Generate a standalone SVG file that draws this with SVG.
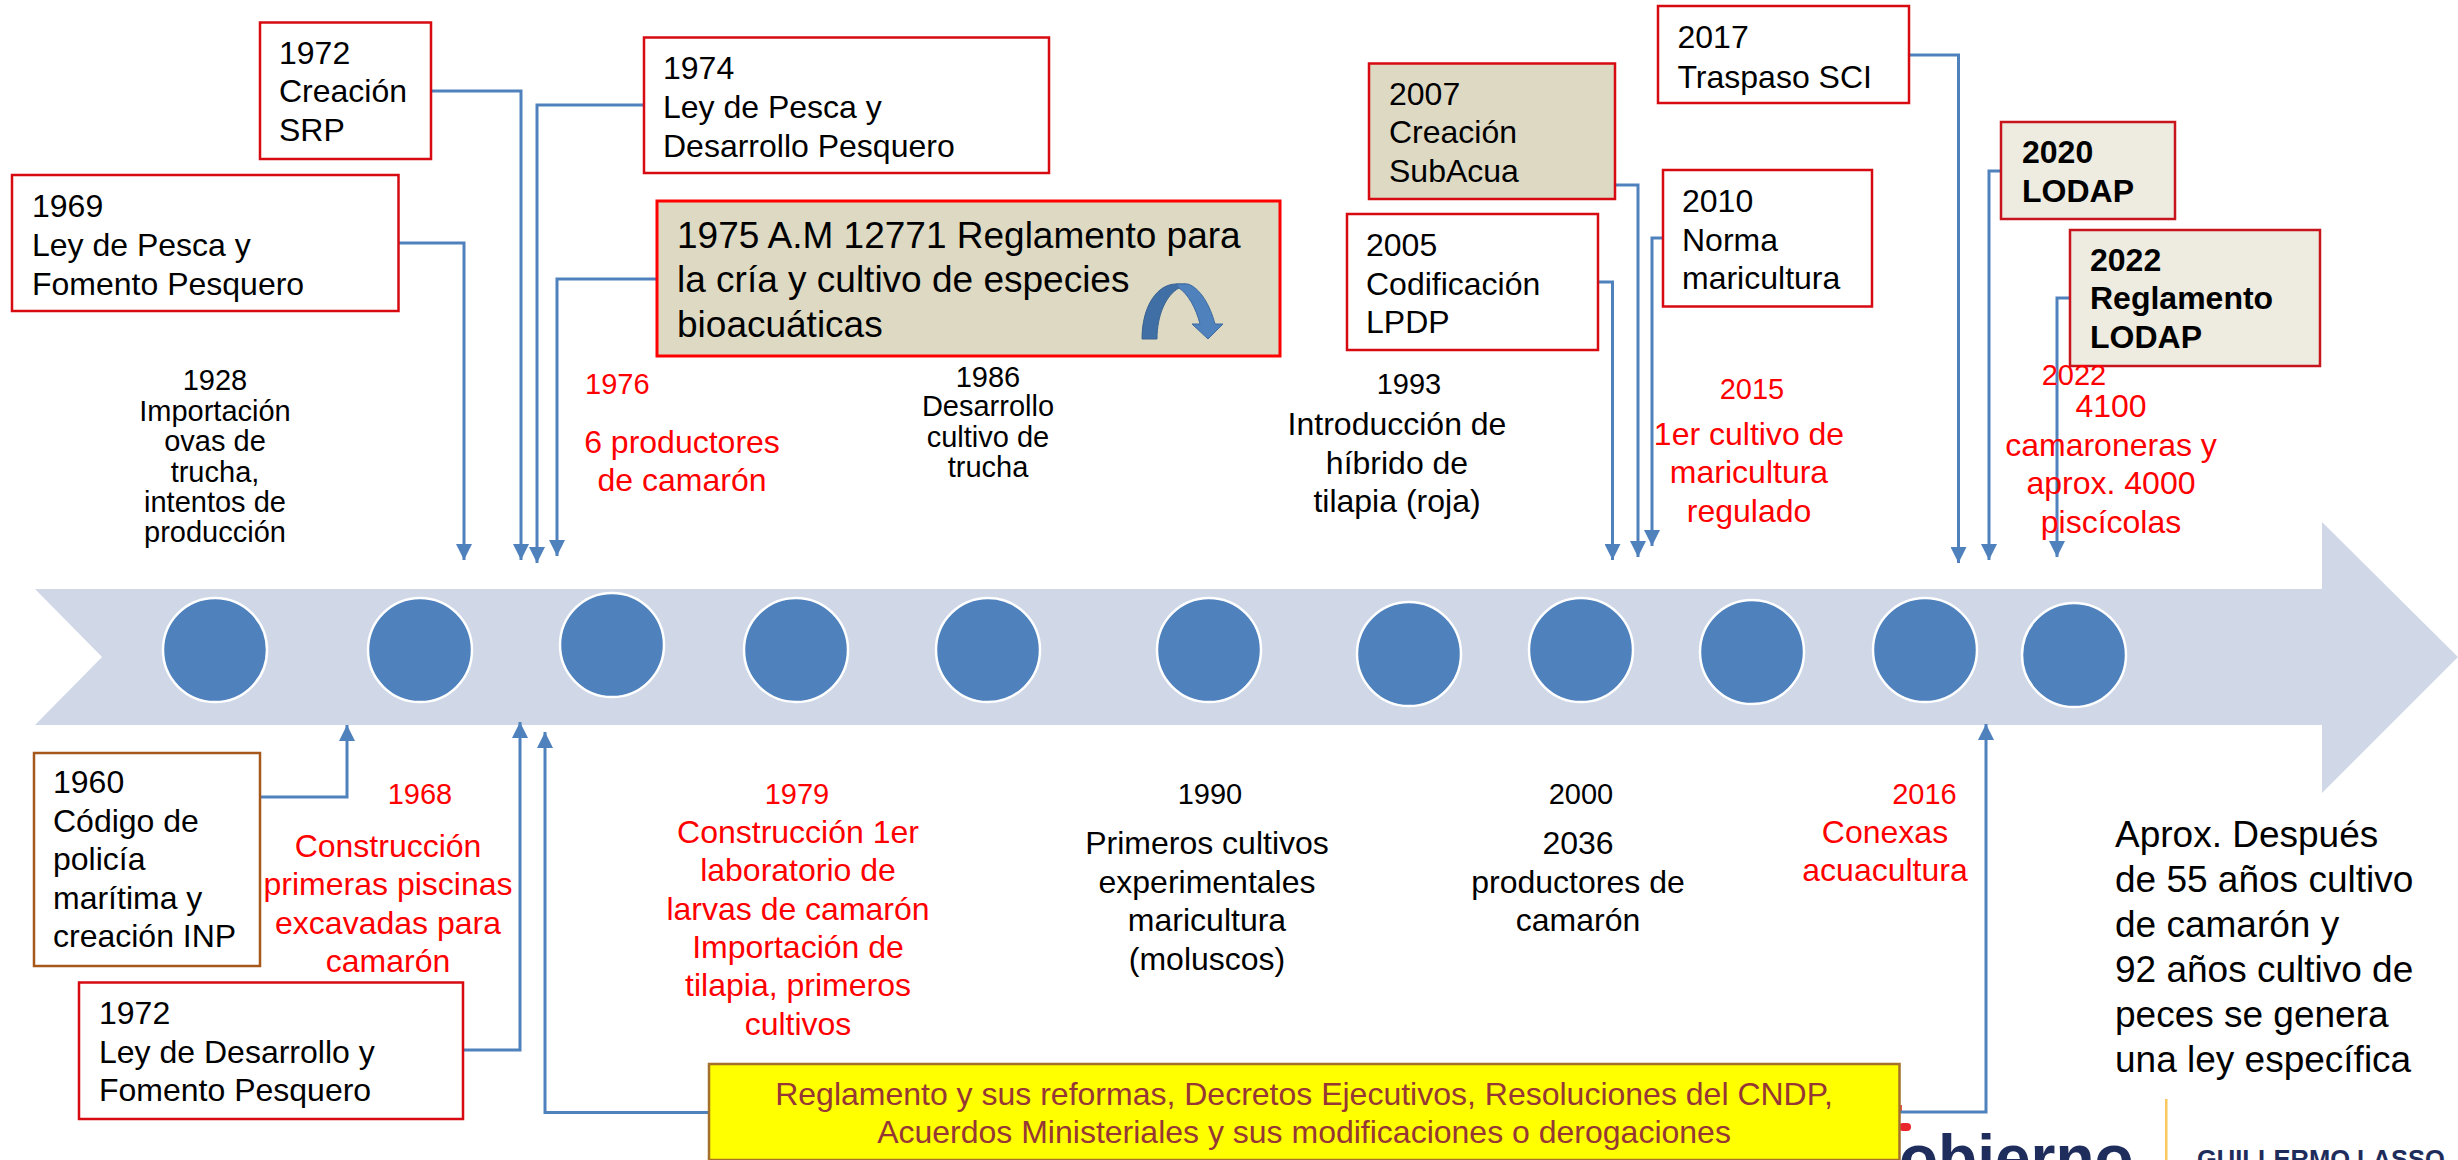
<svg xmlns="http://www.w3.org/2000/svg" width="2458" height="1160" viewBox="0 0 2458 1160">
<style>
text{font-family:"Liberation Sans",Arial,sans-serif;font-size:32px;fill:#000}
.m{text-anchor:middle}
.s{font-size:29px}
.r{fill:#f00}
.b{font-weight:bold}
.box{fill:#fff;stroke:#d60a10;stroke-width:2.5}
.khaki{fill:#ddd9c3;stroke:#d60a10;stroke-width:2.5}
.pale{fill:#eeece1;stroke:#c8141c;stroke-width:2.5}
.c{fill:#4f81bd;stroke:#fff;stroke-width:2.5}
.cn{fill:none;stroke:#4f81bd;stroke-width:3}
.y{fill:#953735;font-size:32px}
.n{font-size:37px}
</style>
<defs>
<marker id="a" markerUnits="userSpaceOnUse" markerWidth="16" markerHeight="16" refX="16" refY="8" orient="auto"><path d="M0 0L16 8L0 16z" fill="#4f81bd"/></marker>
</defs>
<g id="timeline-arrow"><path d="M35 589H2322V522L2458 657L2322 793V725H35L102 657z" fill="#d0d8e8"/></g>
<g id="logo">
<text x="1899" y="1180" font-weight="bold" style="font-size:64px;fill:#1f2d5c">obierno</text>
<rect x="1899" y="1105" width="3" height="7" fill="#e0504c"/><rect x="1899" y="1123" width="12" height="8" rx="4" fill="#e8262c"/>
<rect x="2165" y="1099" width="2.500" height="61" fill="#f8c85c"/>
<text x="2197" y="1168" class="b" style="font-size:25.5px;fill:#1f2d5c">GUILLERMO LASSO</text>
</g>
<g id="dots">
<circle class="c" cx="215" cy="650" r="52"/><circle class="c" cx="420" cy="650" r="52"/><circle class="c" cx="612" cy="645" r="52"/><circle class="c" cx="796" cy="650" r="52"/><circle class="c" cx="988" cy="650" r="52"/><circle class="c" cx="1209" cy="650" r="52"/><circle class="c" cx="1409" cy="654" r="52"/><circle class="c" cx="1581" cy="650" r="52"/><circle class="c" cx="1752" cy="652" r="52"/><circle class="c" cx="1925" cy="650" r="52"/><circle class="c" cx="2074" cy="655" r="52"/>
</g>
<g id="connectors">
<path class="cn" marker-end="url(#a)" d="M398 243H464V560"/>
<path class="cn" marker-end="url(#a)" d="M431 91H521V560"/>
<path class="cn" marker-end="url(#a)" d="M644 105H537V563"/>
<path class="cn" marker-end="url(#a)" d="M657 279H557V556"/>
<path class="cn" marker-end="url(#a)" d="M1598 282H1612.500V560"/>
<path class="cn" marker-end="url(#a)" d="M1615 185H1638V557"/>
<path class="cn" marker-end="url(#a)" d="M1663 238H1652V546"/>
<path class="cn" marker-end="url(#a)" d="M1909 55H1958.500V563"/>
<path class="cn" marker-end="url(#a)" d="M2001 171H1989V560"/>
<path class="cn" marker-end="url(#a)" d="M2070 298H2057V557"/>
<path class="cn" marker-end="url(#a)" d="M260 797H347V725"/>
<path class="cn" marker-end="url(#a)" d="M463 1050H520V722"/>
<path class="cn" marker-end="url(#a)" d="M709 1112.500H545V732"/>
<path class="cn" marker-end="url(#a)" d="M1899 1112H1986V724"/>
</g>
<g id="n1969"><rect class="box" x="12" y="175" width="386.500" height="136"/><text x="32" y="216.500">1969</text><text x="32" y="255.500">Ley de Pesca y</text><text x="32" y="294.500">Fomento Pesquero</text></g>
<g id="n1972a"><rect class="box" x="260" y="22.500" width="171" height="136.500"/><text x="279" y="63.500">1972</text><text x="279" y="102">Creación</text><text x="279" y="141">SRP</text></g>
<g id="n1974"><rect class="box" x="644" y="37.500" width="405" height="135.500"/><text x="663" y="78.500">1974</text><text x="663" y="117.500">Ley de Pesca y</text><text x="663" y="157">Desarrollo Pesquero</text></g>
<g id="n1975"><rect class="khaki" style="stroke:#f00;stroke-width:3" x="657" y="201" width="623" height="155"/><text x="677" y="248" style="font-size:37px">1975 A.M 12771 Reglamento para</text><text x="677" y="292" style="font-size:37px">la cría y cultivo de especies</text><text x="677" y="337" style="font-size:37px">bioacuáticas</text>
<path d="M1142 339C1142 305 1158 284 1176 284H1186L1179 288C1166 295 1157 315 1157 339z" fill="#406fa6" stroke="#3a6491"/><path d="M1176 284H1188C1200 288 1210 305 1215 324H1223L1208 339L1192 324H1200C1196 308 1188 294 1179 288z" fill="#4f81bd" stroke="#3d6a9f"/></g>
<g id="n2005"><rect class="box" x="1347" y="214" width="251" height="136"/><text x="1366" y="255.500">2005</text><text x="1366" y="294.500">Codificación</text><text x="1366" y="332.500">LPDP</text></g>
<g id="n2007"><rect class="khaki" x="1369" y="63.500" width="246" height="135.500"/><text x="1389" y="104.500">2007</text><text x="1389" y="143">Creación</text><text x="1389" y="181.500">SubAcua</text></g>
<g id="n2010"><rect class="box" x="1663" y="170" width="209" height="136.500"/><text x="1682" y="211.500">2010</text><text x="1682" y="251">Norma</text><text x="1682" y="288.500">maricultura</text></g>
<g id="n2017"><rect class="box" x="1658" y="6" width="251" height="97"/><text x="1677.500" y="47.500">2017</text><text x="1677.500" y="87.500">Traspaso SCI</text></g>
<g id="n2020"><rect class="pale" x="2001" y="122" width="174" height="97"/><text class="b" x="2022" y="163">2020</text><text class="b" x="2022" y="202">LODAP</text></g>
<g id="n2022"><rect class="pale" x="2070" y="230" width="250" height="136"/><text class="b" x="2090" y="271">2022</text><text class="b" x="2090" y="309">Reglamento</text><text class="b" x="2090" y="348">LODAP</text></g>
<g id="n1960"><rect x="34" y="753" width="226" height="213" fill="#fff" stroke="#a5581a" stroke-width="2.5"/><text x="53" y="792.500">1960</text><text x="53" y="831.500">Código de</text><text x="53" y="870">policía</text><text x="53" y="908.500">marítima y</text><text x="53" y="947">creación INP</text></g>
<g id="n1972b"><rect class="box" x="79" y="982.500" width="384" height="136.500"/><text x="99" y="1023.500">1972</text><text x="99" y="1062.500">Ley de Desarrollo y</text><text x="99" y="1100.500">Fomento Pesquero</text></g>
<g id="n-yellow"><rect x="709" y="1064" width="1190.500" height="96" fill="#ff0" stroke="#a5702a" stroke-width="2.5"/><text class="m y" x="1304" y="1104.500">Reglamento y sus reformas, Decretos Ejecutivos, Resoluciones del CNDP,</text><text class="m y" x="1304" y="1142.500">Acuerdos Ministeriales y sus modificaciones o derogaciones</text></g>
<g id="t1928"><text class="m s" x="215" y="390">1928</text><text class="m s" x="215" y="421">Importación</text><text class="m s" x="215" y="451">ovas de</text><text class="m s" x="215" y="482">trucha,</text><text class="m s" x="215" y="512">intentos de</text><text class="m s" x="215" y="542">producción</text></g>
<g id="t1976"><text class="s r" x="585" y="394">1976</text><text class="r m" x="682" y="453">6 productores</text><text class="r m" x="682" y="491">de camarón</text></g>
<g id="t1986"><text class="m s" x="988" y="387">1986</text><text class="m s" x="988" y="416">Desarrollo</text><text class="m s" x="988" y="447">cultivo de</text><text class="m s" x="988" y="477">trucha</text></g>
<g id="t1993"><text class="m s" x="1409" y="394">1993</text><text class="m" x="1397" y="435">Introducción de</text><text class="m" x="1397" y="473.500">híbrido de</text><text class="m" x="1397" y="512">tilapia (roja)</text></g>
<g id="t2015"><text class="m s r" x="1752" y="398.500">2015</text><text class="m r" x="1749" y="444.500">1er cultivo de</text><text class="m r" x="1749" y="483">maricultura</text><text class="m r" x="1749" y="521.500">regulado</text></g>
<g id="t2022"><text class="m s r" x="2074" y="385">2022</text><text class="m r" x="2111" y="417">4100</text><text class="m r" x="2111" y="456">camaroneras y</text><text class="m r" x="2111" y="494">aprox. 4000</text><text class="m r" x="2111" y="533">piscícolas</text></g>
<g id="t1968"><text class="m s r" x="420" y="804">1968</text><text class="m r" x="388" y="857">Construcción</text><text class="m r" x="388" y="895">primeras piscinas</text><text class="m r" x="388" y="933.500">excavadas para</text><text class="m r" x="388" y="971.500">camarón</text></g>
<g id="t1979"><text class="m s r" x="797" y="804">1979</text><text class="m r" x="798" y="842.500">Construcción 1er</text><text class="m r" x="798" y="881">laboratorio de</text><text class="m r" x="798" y="919.500">larvas de camarón</text><text class="m r" x="798" y="958">Importación de</text><text class="m r" x="798" y="996">tilapia, primeros</text><text class="m r" x="798" y="1034.500">cultivos</text></g>
<g id="t1990"><text class="m s" x="1210" y="804">1990</text><text class="m" x="1207" y="854">Primeros cultivos</text><text class="m" x="1207" y="892.500">experimentales</text><text class="m" x="1207" y="931">maricultura</text><text class="m" x="1207" y="969.500">(moluscos)</text></g>
<g id="t2000"><text class="m s" x="1581" y="804">2000</text><text class="m" x="1578" y="854">2036</text><text class="m" x="1578" y="892.500">productores de</text><text class="m" x="1578" y="931">camarón</text></g>
<g id="t2016"><text class="m s r" x="1924.500" y="804">2016</text><text class="m r" x="1885" y="842.500">Conexas</text><text class="m r" x="1885" y="881">acuacultura</text></g>
<g id="note"><text class="n" x="2115" y="847">Aprox. Después</text><text class="n" x="2115" y="892">de 55 años cultivo</text><text class="n" x="2115" y="937">de camarón y</text><text class="n" x="2115" y="981.500">92 años cultivo de</text><text class="n" x="2115" y="1026.500">peces se genera</text><text class="n" x="2115" y="1071.500">una ley específica</text></g>
</svg>
